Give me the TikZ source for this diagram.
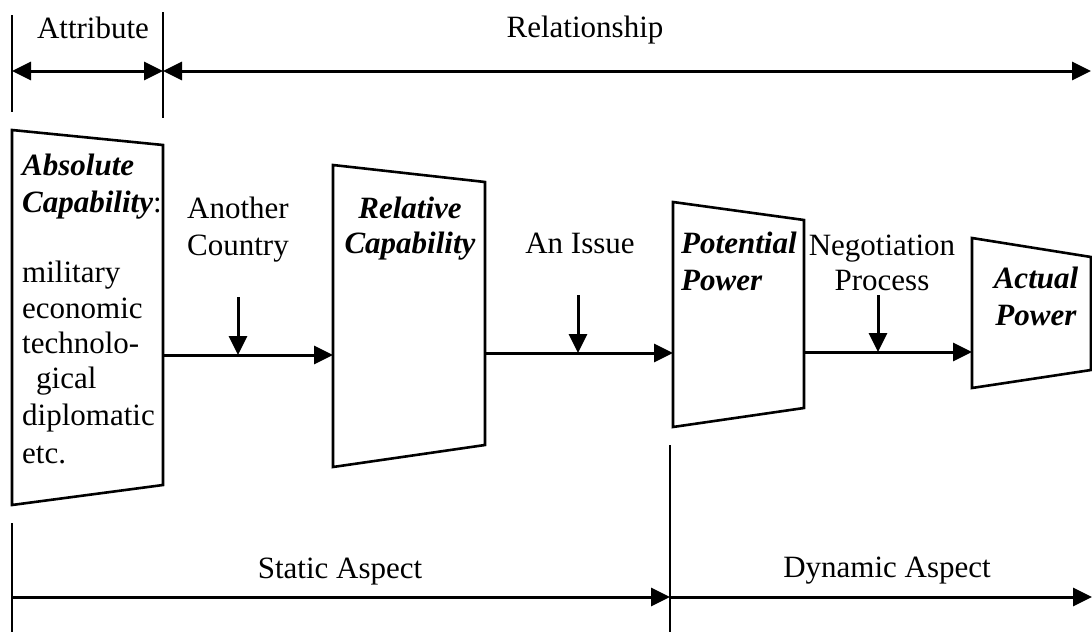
\documentclass[tikz,border=0pt]{standalone}
\usepackage{fontspec}
\setmainfont{Liberation Serif}
\usetikzlibrary{arrows.meta}
\tikzset{
  txt/.style={font=\fontsize{31}{35}\selectfont, inner sep=0pt},
  bx/.style={draw=black, fill=white, line width=2.6pt, line join=miter},
  conn/.style={line width=3pt, -{Triangle[length=19pt,width=18pt]}},
  span/.style={line width=3pt, {Triangle[length=19pt,width=18pt]}-{Triangle[length=19pt,width=18pt]}},
  tick/.style={line width=2.4pt},
}
\newcommand{\bi}[1]{\textbf{\textit{#1}}}
\begin{document}
\begin{tikzpicture}[x=1pt,y=-1pt]
\useasboundingbox (0,0) rectangle (1092,632);

% --- top scale: attribute vs relationship ---
\coordinate (t1a) at (12,15);  \coordinate (t1b) at (12,112);
\coordinate (t2a) at (163,12); \coordinate (t2b) at (163,118);
\draw[tick] (t1a) -- (t1b);
\draw[tick] (t2a) -- (t2b);
\coordinate (attL) at (12,71);
\coordinate (attR) at (163,71);
\coordinate (relEnd) at (1091,71);
\draw[span] (attL) -- (attR);
\draw[span] (attR) -- (relEnd);
\node[txt, anchor=base] (attribute) at (93,38) {Attribute};
\node[txt, anchor=base] (relationship) at (585,37) {Relationship};

% --- capability / power boxes ---
\coordinate (absTL) at (12,130);  \coordinate (absTR) at (163,145);
\coordinate (absBR) at (163,485); \coordinate (absBL) at (12,505);
\draw[bx] (absTL) -- (absTR) -- (absBR) -- (absBL) -- cycle;

\coordinate (relTL) at (333,165); \coordinate (relTR) at (485,182);
\coordinate (relBR) at (485,445); \coordinate (relBL) at (333,467);
\draw[bx] (relTL) -- (relTR) -- (relBR) -- (relBL) -- cycle;

\coordinate (potTL) at (673,202); \coordinate (potTR) at (804,220);
\coordinate (potBR) at (804,408); \coordinate (potBL) at (673,427);
\draw[bx] (potTL) -- (potTR) -- (potBR) -- (potBL) -- cycle;

\coordinate (actTL) at (972,238); \coordinate (actTR) at (1091,257);
\coordinate (actBR) at (1091,370); \coordinate (actBL) at (972,388);
\draw[bx] (actTL) -- (actTR) -- (actBR) -- (actBL) -- cycle;

% box texts (multi-line nodes are placed by the baseline of their last line)
\node[txt, anchor=base west, align=left] (abs) at (22,463)
  {\bi{Absolute}\\[2pt] \bi{Capability}:\\[35pt]
   military\\[1pt] economic\\ technolo-\\ \hspace*{0.45em}gical\\[2pt] diplomatic\\[3pt] etc.};
\node[txt, anchor=base, align=center] (rel) at (410,253) {\bi{Relative}\\ \bi{Capability}};
\node[txt, anchor=base west, align=left] (pot) at (681,290) {\bi{Potential}\\[2pt] \bi{Power}};
\node[txt, anchor=base, align=center] (act) at (1036,325) {\bi{Actual}\\[2pt] \bi{Power}};

% --- flow connectors ---
\coordinate (absR) at (163,355); \coordinate (relL) at (333,355);
\coordinate (relR) at (485,353); \coordinate (potL) at (673,353);
\coordinate (potR) at (804,352); \coordinate (actL) at (972,352);
\draw[conn] (absR) -- (relL);
\draw[conn] (relR) -- (potL);
\draw[conn] (potR) -- (actL);

% influences entering each step
\node[txt, anchor=base, align=center] (country) at (238,255) {Another\\[2pt] Country};
\node[txt, anchor=base] (issue) at (580,253) {An Issue};
\node[txt, anchor=base, align=center] (nego) at (882,290) {Negotiation\\ Process};
\coordinate (c1a) at (238,297); \coordinate (c1b) at (238,355);
\coordinate (c2a) at (578,295); \coordinate (c2b) at (578,353);
\coordinate (c3a) at (878,295); \coordinate (c3b) at (878,352);
\draw[conn] (c1a) -- (c1b);
\draw[conn] (c2a) -- (c2b);
\draw[conn] (c3a) -- (c3b);

% --- bottom scale: static vs dynamic ---
\coordinate (b1a) at (12,523);  \coordinate (b1b) at (12,632);
\coordinate (b2a) at (670,445); \coordinate (b2b) at (670,632);
\draw[tick] (b1a) -- (b1b);
\draw[tick] (b2a) -- (b2b);
\coordinate (stL) at (12,597); \coordinate (stR) at (670,597);
\coordinate (dyR) at (1092,597);
\draw[conn] (stL) -- (stR);
\draw[conn] (stR) -- (dyR);
\node[txt, anchor=base] (static) at (340,578) {Static Aspect};
\node[txt, anchor=base] (dynamic) at (887,577) {Dynamic Aspect};
\end{tikzpicture}
\end{document}
